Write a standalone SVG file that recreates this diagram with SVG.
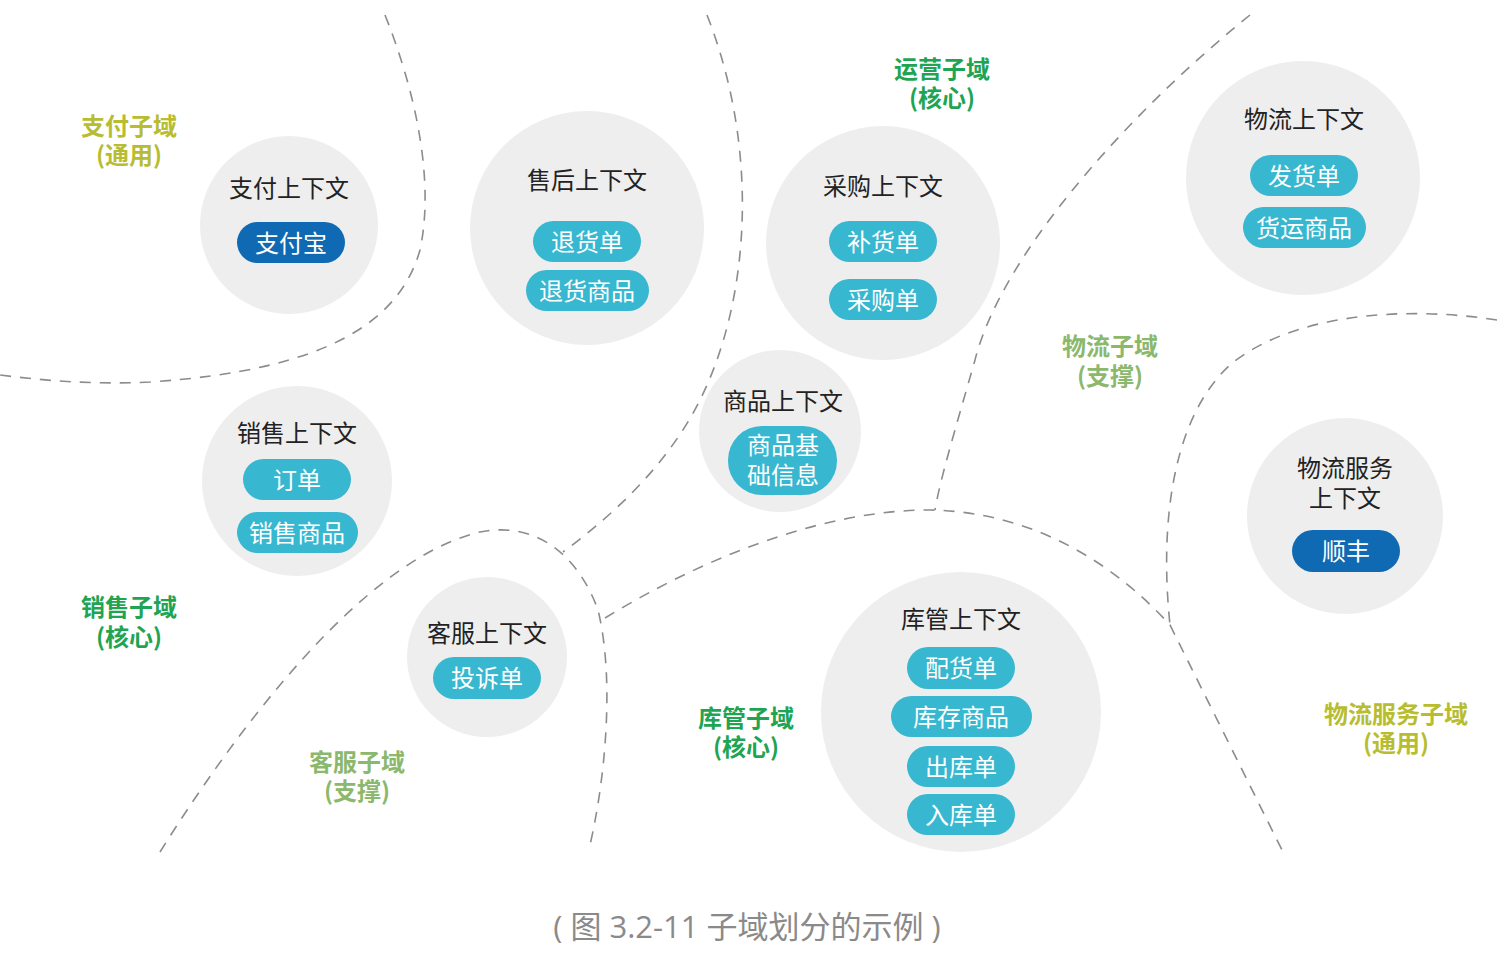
<svg xmlns="http://www.w3.org/2000/svg" width="1501" height="957" viewBox="0 0 1501 957">
<style>
.ctx{fill:#eeeeee}
.pill{fill:#38b7d0}
.pd{fill:#0f6ab3}
.t{font-family:"Noto Sans CJK SC","Noto Sans",sans-serif;font-size:24px;fill:#222;text-anchor:middle;dominant-baseline:central}
.pt{font-family:"Noto Sans CJK SC","Noto Sans",sans-serif;font-size:24px;fill:#ffffff;text-anchor:middle;dominant-baseline:central}
.d{font-family:"Noto Sans CJK SC","Noto Sans",sans-serif;font-size:24px;font-weight:700;text-anchor:middle;dominant-baseline:central}
.core{fill:#1fa453}
.gen{fill:#b8bd30}
.sup{fill:#8bb86c}
.cap{font-family:"Open Sans","Noto Sans CJK SC",sans-serif;font-size:31px;fill:#8a8a8a;text-anchor:middle;dominant-baseline:central}
.dash{fill:none;stroke:#8c8c8c;stroke-width:1.6;stroke-dasharray:11 9}
</style>
<rect width="1501" height="957" fill="#ffffff"/>
<g id="connectors">
<path class="dash" d="M385,15 C415,90 435,180 420,250 C400,320 330,370 150,382 C90,385 40,380 0,375"/>
<path class="dash" d="M707,15 C760,150 750,300 700,400 C670,460 620,510 563,552"/>
<path class="dash" d="M160,852 C230,740 360,560 480,532 C540,520 580,560 598,610 C615,680 605,780 590,845"/>
<path class="dash" d="M605,618 C700,560 820,510 930,510 C1040,512 1120,570 1170,625 L1283,852"/>
<path class="dash" d="M1250,15 C1120,120 1000,260 975,360 C955,430 940,480 935,510"/>
<path class="dash" d="M1497,320 C1400,305 1290,315 1230,365 C1170,420 1160,530 1170,625"/>
</g>
<g id="payment-ctx">
<circle class="ctx" cx="289" cy="225" r="89"/>
<text class="t" x="289" y="186">支付上下文</text>
<rect class="pd" x="237" y="222" width="108" height="41" rx="20.5"/>
<text class="pt" x="291" y="241">支付宝</text>
</g>
<g id="aftersale-ctx">
<circle class="ctx" cx="587" cy="228" r="117"/>
<text class="t" x="587" y="178">售后上下文</text>
<rect class="pill" x="533" y="221" width="108" height="41" rx="20.5"/>
<text class="pt" x="587" y="240">退货单</text>
<rect class="pill" x="526" y="270" width="123" height="41" rx="20.5"/>
<text class="pt" x="587" y="289">退货商品</text>
</g>
<g id="purchase-ctx">
<circle class="ctx" cx="883" cy="243" r="117"/>
<text class="t" x="883" y="184">采购上下文</text>
<rect class="pill" x="829" y="221" width="108" height="41" rx="20.5"/>
<text class="pt" x="883" y="240">补货单</text>
<rect class="pill" x="829" y="279" width="108" height="41" rx="20.5"/>
<text class="pt" x="883" y="298">采购单</text>
</g>
<g id="logistics-ctx">
<circle class="ctx" cx="1303" cy="178" r="117"/>
<text class="t" x="1304" y="117">物流上下文</text>
<rect class="pill" x="1250" y="155" width="108" height="41" rx="20.5"/>
<text class="pt" x="1304" y="174">发货单</text>
<rect class="pill" x="1243" y="207" width="123" height="41" rx="20.5"/>
<text class="pt" x="1304" y="226">货运商品</text>
</g>
<g id="sales-ctx">
<circle class="ctx" cx="297" cy="481" r="95"/>
<text class="t" x="297" y="431">销售上下文</text>
<rect class="pill" x="243" y="459" width="108" height="41" rx="20.5"/>
<text class="pt" x="297" y="478">订单</text>
<rect class="pill" x="237" y="512" width="121" height="41" rx="20.5"/>
<text class="pt" x="297" y="531">销售商品</text>
</g>
<g id="product-ctx">
<circle class="ctx" cx="780" cy="431" r="81"/>
<text class="t" x="783" y="399">商品上下文</text>
<rect class="pill" x="728" y="426" width="109" height="69" rx="34"/>
<text class="pt" x="783" y="443"><tspan x="783">商品基</tspan><tspan x="783" dy="30">础信息</tspan></text>
</g>
<g id="service-ctx">
<circle class="ctx" cx="487" cy="657" r="80"/>
<text class="t" x="487" y="631">客服上下文</text>
<rect class="pill" x="433" y="657" width="108" height="42" rx="21"/>
<text class="pt" x="487" y="676">投诉单</text>
</g>
<g id="warehouse-ctx">
<circle class="ctx" cx="961" cy="712" r="140"/>
<text class="t" x="961" y="617">库管上下文</text>
<rect class="pill" x="907" y="647" width="108" height="42" rx="21"/>
<text class="pt" x="961" y="666">配货单</text>
<rect class="pill" x="891" y="696" width="141" height="41" rx="20.5"/>
<text class="pt" x="961" y="715">库存商品</text>
<rect class="pill" x="907" y="746" width="108" height="41" rx="20.5"/>
<text class="pt" x="961" y="765">出库单</text>
<rect class="pill" x="907" y="794" width="108" height="41" rx="20.5"/>
<text class="pt" x="961" y="813">入库单</text>
</g>
<g id="logistics-service-ctx">
<circle class="ctx" cx="1345" cy="516" r="98"/>
<text class="t" x="1345" y="466"><tspan x="1345">物流服务</tspan><tspan x="1345" dy="30">上下文</tspan></text>
<rect class="pd" x="1292" y="530" width="108" height="42" rx="21"/>
<text class="pt" x="1346" y="549">顺丰</text>
</g>
<g id="domain-payment">
<text class="d gen" x="129" y="124"><tspan x="129">支付子域</tspan><tspan x="129" dy="29">(通用)</tspan></text>
</g>
<g id="domain-operation">
<text class="d core" x="942" y="67"><tspan x="942">运营子域</tspan><tspan x="942" dy="29">(核心)</tspan></text>
</g>
<g id="domain-logistics">
<text class="d sup" x="1110" y="344"><tspan x="1110">物流子域</tspan><tspan x="1110" dy="30">(支撑)</tspan></text>
</g>
<g id="domain-sales">
<text class="d core" x="129" y="605"><tspan x="129">销售子域</tspan><tspan x="129" dy="30">(核心)</tspan></text>
</g>
<g id="domain-service">
<text class="d sup" x="357" y="760"><tspan x="357">客服子域</tspan><tspan x="357" dy="29">(支撑)</tspan></text>
</g>
<g id="domain-warehouse">
<text class="d core" x="746" y="716"><tspan x="746">库管子域</tspan><tspan x="746" dy="29">(核心)</tspan></text>
</g>
<g id="domain-logistics-service">
<text class="d gen" x="1396" y="712"><tspan x="1396">物流服务子域</tspan><tspan x="1396" dy="29">(通用)</tspan></text>
</g>
<text class="cap" x="747" y="926">( 图 3.2-11 子域划分的示例 )</text>
</svg>
